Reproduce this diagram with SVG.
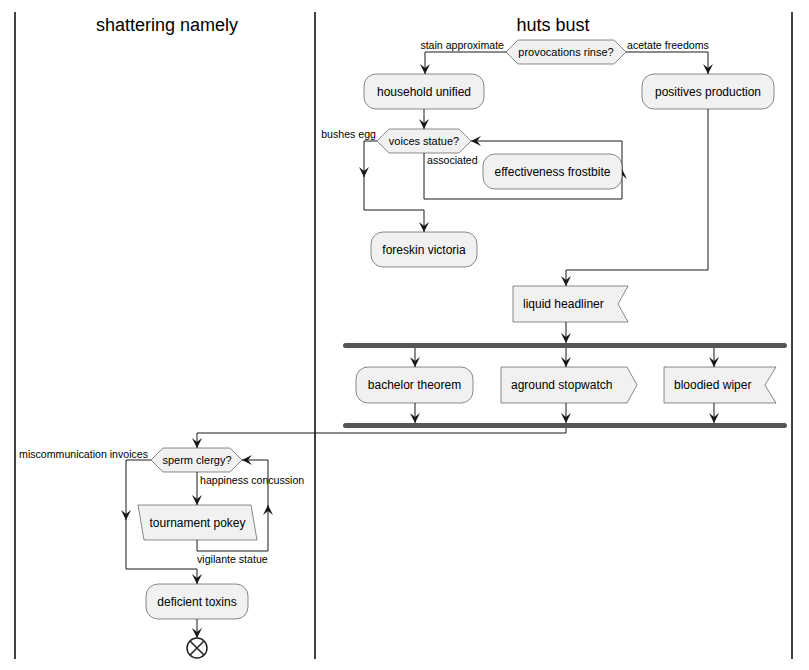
<svg xmlns="http://www.w3.org/2000/svg" width="809" height="670" viewBox="0 0 809 670">
<defs>
<marker id="ah" viewBox="0 0 10 10" refX="10" refY="5" markerWidth="10" markerHeight="10" markerUnits="userSpaceOnUse" orient="auto">
<path d="M0,0 L10,5 L0,10 L4,5 Z" fill="#181818"/>
</marker>
<style>
.lane{stroke:#000;stroke-width:1.5;fill:none}
.title{font-family:"Liberation Sans",Arial,sans-serif;font-size:18px;fill:#000;text-anchor:middle}
.box{fill:#F1F1F1;stroke:#181818;stroke-width:0.5}
.t{font-family:"Liberation Sans",Arial,sans-serif;font-size:12px;fill:#000;text-anchor:middle}
.ts{font-family:"Liberation Sans",Arial,sans-serif;font-size:12px;fill:#000}
.dt{font-family:"Liberation Sans",Arial,sans-serif;font-size:11px;fill:#000;text-anchor:middle}
.lbl{font-family:"Liberation Sans",Arial,sans-serif;font-size:10.6px;fill:#000}
.lble{font-family:"Liberation Sans",Arial,sans-serif;font-size:10.6px;fill:#000;text-anchor:end}
.ea{fill:none;stroke:#181818;stroke-width:1;marker-end:url(#ah)}
.bar{fill:#555555;stroke:none}
</style>
</defs>
<rect width="809" height="670" fill="#FFFFFF"/>
<g id="lanes">
<line class="lane" x1="15" y1="12" x2="15" y2="659"/>
<line class="lane" x1="315" y1="12" x2="315" y2="659"/>
<line class="lane" x1="792" y1="12" x2="792" y2="659"/>
<text class="title" x="167" y="31">shattering namely</text>
<text class="title" x="553" y="31">huts bust</text>
</g>
<g id="connectors">
<path class="ea" d="M506,52 H425 V74"/>
<path class="ea" d="M626,52 H708 V74"/>
<path class="ea" d="M424,109 V129"/>
<path class="ea" d="M377,141 H364 V177"/>
<path class="ea" d="M364,176 V210 H424 V232"/>
<path class="ea" d="M424,153 V199 H622 V169"/>
<path class="ea" d="M622,170 V141 H471"/>
<path class="ea" d="M708,109 V270 H566 V286"/>
<path class="ea" d="M566,322 V343"/>
<path class="ea" d="M415,348 V367"/>
<path class="ea" d="M566,348 V367"/>
<path class="ea" d="M714,348 V367"/>
<path class="ea" d="M415,403 V423"/>
<path class="ea" d="M566,403 V423"/>
<path class="ea" d="M714,403 V423"/>
<path class="ea" d="M566,428 V433 H197 V448"/>
<path class="ea" d="M151,460 H126 V520"/>
<path class="ea" d="M126,519 V569 H197 V584"/>
<path class="ea" d="M197,472 V505"/>
<path class="ea" d="M197,540 V551 H268 V505"/>
<path class="ea" d="M268,506 V460 H242"/>
<path class="ea" d="M197,619 V638"/>
<text class="lble" x="504" y="49">stain approximate</text>
<text class="lbl" x="627" y="49">acetate freedoms</text>
<text class="lble" x="376" y="138">bushes egg</text>
<text class="lbl" x="427" y="164">associated</text>
<text class="lble" x="148" y="458">miscommunication invoices</text>
<text class="lbl" x="200" y="484">happiness concussion</text>
<text class="lbl" x="197" y="563">vigilante statue</text>
</g>
<g id="d1">
<polygon class="box" points="506,52 518,40 614,40 626,52 614,64 518,64"/>
<text class="dt" x="566" y="56">provocations rinse?</text>
</g>
<g id="household">
<rect class="box" x="364" y="74" width="120" height="35" rx="12"/>
<text class="t" x="424" y="96">household unified</text>
</g>
<g id="positives">
<rect class="box" x="642" y="74" width="132" height="35" rx="12"/>
<text class="t" x="708" y="96">positives production</text>
</g>
<g id="d2">
<polygon class="box" points="377,141 389,129 459,129 471,141 459,153 389,153"/>
<text class="dt" x="424" y="145">voices statue?</text>
</g>
<g id="effectiveness">
<rect class="box" x="483" y="154" width="139" height="35" rx="12"/>
<text class="t" x="552.5" y="176">effectiveness frostbite</text>
</g>
<g id="foreskin">
<rect class="box" x="371" y="232" width="106" height="35" rx="12"/>
<text class="t" x="424" y="254">foreskin victoria</text>
</g>
<g id="liquid">
<polygon class="box" points="513,286 628,286 618,304 628,322 513,322"/>
<text class="ts" x="523" y="308">liquid headliner</text>
</g>
<g id="fork">
<rect class="bar" x="343" y="343" width="444" height="5" rx="2.5"/>
</g>
<g id="bachelor">
<rect class="box" x="356" y="367" width="117" height="36" rx="12"/>
<text class="t" x="414.5" y="389">bachelor theorem</text>
</g>
<g id="aground">
<polygon class="box" points="501,367 627,367 637,385 627,403 501,403"/>
<text class="ts" x="511" y="389">aground stopwatch</text>
</g>
<g id="bloodied">
<polygon class="box" points="664,367 776,367 765,385 776,403 664,403"/>
<text class="ts" x="674" y="389">bloodied wiper</text>
</g>
<g id="join">
<rect class="bar" x="343" y="423" width="444" height="5" rx="2.5"/>
</g>
<g id="d3">
<polygon class="box" points="151,460 163,448 230,448 242,460 230,472 163,472"/>
<text class="dt" x="197" y="464">sperm clergy?</text>
</g>
<g id="tournament">
<polygon class="box" points="138,505 251,505 257,540 144,540"/>
<text class="t" x="197.5" y="527">tournament pokey</text>
</g>
<g id="deficient">
<rect class="box" x="146" y="584" width="102" height="35" rx="12"/>
<text class="t" x="197" y="606">deficient toxins</text>
</g>
<g id="end">
<circle cx="197" cy="648" r="10" fill="#FFFFFF" stroke="#222222" stroke-width="1.5"/>
<path d="M190,641 L204,655 M204,641 L190,655" stroke="#222222" stroke-width="1.5"/>
</g>
</svg>
